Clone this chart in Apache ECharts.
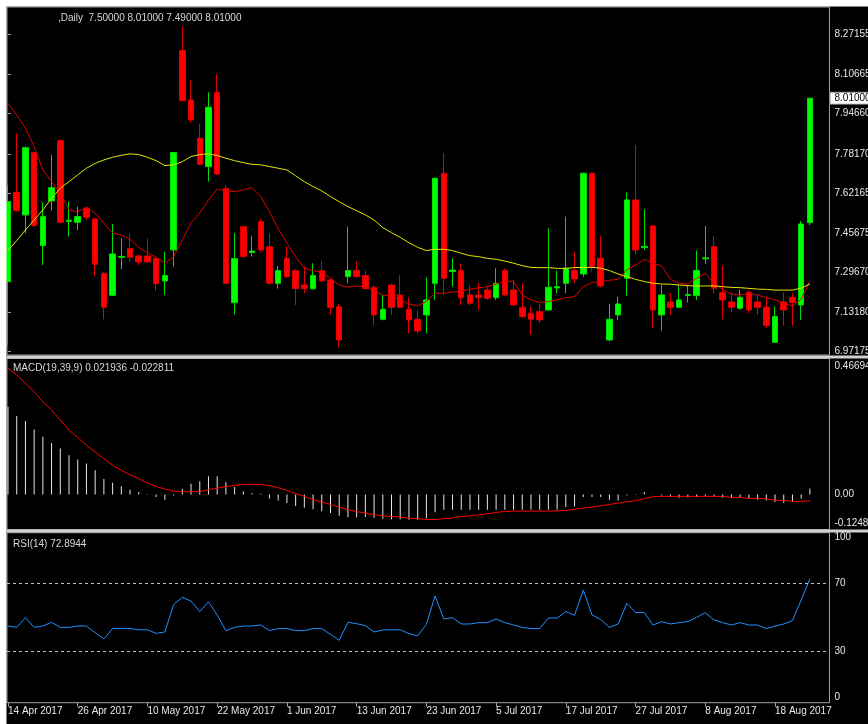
<!DOCTYPE html>
<html>
<head>
<meta charset="utf-8">
<script src="https://cdn.jsdelivr.net/npm/echarts@6/dist/echarts.min.js"></script>
<style>
html,body{margin:0;padding:0;background:#fff;}
#c{width:868px;height:724px;}
</style>
</head>
<body>
<div id="c"></div>
<script>
// ---------- data ----------
const dates = [
 '14 Apr 2017','17 Apr 2017','18 Apr 2017','19 Apr 2017','20 Apr 2017','21 Apr 2017','24 Apr 2017','25 Apr 2017',
 '26 Apr 2017','27 Apr 2017','28 Apr 2017','2 May 2017','3 May 2017','4 May 2017','5 May 2017','9 May 2017',
 '10 May 2017','11 May 2017','12 May 2017','15 May 2017','16 May 2017','17 May 2017','18 May 2017','19 May 2017',
 '22 May 2017','23 May 2017','24 May 2017','25 May 2017','26 May 2017','29 May 2017','30 May 2017','31 May 2017',
 '1 Jun 2017','2 Jun 2017','5 Jun 2017','6 Jun 2017','7 Jun 2017','8 Jun 2017','9 Jun 2017','12 Jun 2017',
 '13 Jun 2017','14 Jun 2017','15 Jun 2017','16 Jun 2017','19 Jun 2017','20 Jun 2017','21 Jun 2017','22 Jun 2017',
 '23 Jun 2017','26 Jun 2017','27 Jun 2017','28 Jun 2017','29 Jun 2017','30 Jun 2017','3 Jul 2017','4 Jul 2017',
 '5 Jul 2017','6 Jul 2017','7 Jul 2017','10 Jul 2017','11 Jul 2017','12 Jul 2017','13 Jul 2017','14 Jul 2017',
 '17 Jul 2017','18 Jul 2017','19 Jul 2017','20 Jul 2017','21 Jul 2017','24 Jul 2017','25 Jul 2017','26 Jul 2017',
 '27 Jul 2017','28 Jul 2017','31 Jul 2017','1 Aug 2017','2 Aug 2017','3 Aug 2017','4 Aug 2017','7 Aug 2017',
 '8 Aug 2017','9 Aug 2017','10 Aug 2017','11 Aug 2017','14 Aug 2017','15 Aug 2017','16 Aug 2017','17 Aug 2017',
 '18 Aug 2017','21 Aug 2017','22 Aug 2017','23 Aug 2017','24 Aug 2017'
];
const dateTickIdx = [0, 8, 16, 24, 32, 40, 48, 56, 64, 72, 80, 88];

const open = [
 7.2587,7.6245,7.5317,7.7870,7.4062,7.5891,7.8361,7.5050,7.5016,7.5590,
 7.5153,7.2928,7.2028,7.3580,7.3938,7.3638,7.3638,7.3529,7.2615,7.3884,
 8.2047,8.0026,7.8457,7.7297,8.0327,7.6409,7.1727,7.4839,7.3780,7.5044,
 7.4020,7.2519,7.3543,7.3038,7.2450,7.2300,7.3038,7.2656,7.1563,7.2792,
 7.3038,7.2833,7.2355,7.1045,7.2450,7.2041,7.1454,7.1045,7.1222,7.2519,
 7.7024,7.3000,7.3038,7.2041,7.2041,7.2246,7.1932,7.3038,7.2246,7.1536,
 7.1290,7.1358,7.1427,7.2330,7.2519,7.3038,7.2901,7.7024,7.3543,7.0198,
 7.1222,7.2724,7.5932,7.3980,7.4867,7.1222,7.1754,7.1536,7.2020,7.2014,
 7.3520,7.4020,7.2137,7.1754,7.1495,7.2137,7.1754,7.1536,7.0102,7.1754,
 7.1945,7.1631,7.5000
];
const close = [
 7.5863,7.5495,7.8074,7.4880,7.5249,7.6436,7.5016,7.5100,7.5249,7.5221,
 7.3297,7.1536,7.3720,7.3620,7.3584,7.3393,7.3393,7.2505,7.2833,7.7870,
 8.0000,7.9207,7.7392,7.9726,7.6996,7.2519,7.3529,7.3611,7.3840,7.3884,
 7.2519,7.3038,7.2792,7.2300,7.2300,7.2833,7.2615,7.1536,7.0198,7.3038,
 7.2792,7.2300,7.1222,7.1454,7.1536,7.1536,7.1018,7.0567,7.1836,7.6819,
 7.2724,7.3060,7.1932,7.1700,7.1932,7.1905,7.2519,7.2041,7.1631,7.1154,
 7.1045,7.1018,7.2355,7.2380,7.3133,7.2697,7.7024,7.3202,7.2410,7.1045,
 7.1672,7.5932,7.3884,7.4030,7.1427,7.2041,7.1536,7.1836,7.2060,7.3038,
 7.3560,7.2314,7.1836,7.1536,7.1945,7.1427,7.1536,7.0785,7.1154,7.1427,
 7.1727,7.4948,8.0100
];
const low = [
 6.9994,7.5450,7.4566,7.4820,7.3270,7.5495,7.4980,7.4430,7.4703,7.5120,
 7.2792,7.1045,7.2000,7.3093,7.3406,7.3270,7.3350,7.2219,7.2041,7.3202,
 7.9950,7.9098,7.7350,7.6683,7.6950,7.2480,7.1249,7.3560,7.3611,7.3790,
 7.2460,7.2300,7.2740,7.1631,7.2109,7.2260,7.2580,7.1222,6.9898,7.2519,
 7.2750,7.2260,7.0813,7.1000,7.1222,7.1500,7.0471,7.0471,7.0471,7.1836,
 7.2041,7.2382,7.1631,7.1630,7.1427,7.1830,7.1830,7.2000,7.1600,7.1120,
 7.0403,7.0882,7.1400,7.2109,7.2109,7.2519,7.2792,7.2997,7.2350,7.0150,
 7.1018,7.2014,7.3679,7.3884,7.0676,7.0580,7.1222,7.1500,7.1727,7.1836,
 7.3311,7.2109,7.1045,7.1331,7.1430,7.1290,7.1222,7.0676,7.0080,7.0785,
 7.0785,7.1018,7.4900
];
const high = [
 7.6546,7.8662,7.8120,7.7920,7.5836,7.7774,7.8400,7.5863,7.5658,7.5660,
 7.5200,7.2980,7.4948,7.4362,7.4566,7.3680,7.4362,7.3580,7.3815,7.7900,
 8.3029,8.0846,7.9044,8.0341,8.1078,7.6550,7.4566,7.4880,7.4457,7.5153,
 7.4566,7.3229,7.4020,7.3090,7.3229,7.3338,7.3434,7.2700,7.1672,7.4839,
 7.3434,7.3038,7.2450,7.2041,7.2500,7.2847,7.1945,7.1427,7.2751,7.6850,
 7.7842,7.3543,7.3311,7.2450,7.2546,7.2380,7.3133,7.3130,7.2656,7.2519,
 7.1563,7.1700,7.4771,7.3038,7.5249,7.3815,7.7050,7.7050,7.4457,7.1672,
 7.1973,7.6245,7.8184,7.5549,7.4900,7.2450,7.2137,7.2450,7.2450,7.3857,
 7.4867,7.4457,7.3243,7.2140,7.2246,7.2250,7.2041,7.1973,7.1563,7.2137,
 7.2109,7.5071,8.0100
];
const maFast = [
 7.989,7.941,7.887,7.812,7.716,7.668,7.620,7.552,7.545,7.563,
 7.539,7.498,7.457,7.450,7.432,7.399,7.377,7.358,7.334,7.361,
 7.429,7.500,7.539,7.593,7.637,7.630,7.627,7.634,7.644,7.607,
 7.545,7.475,7.416,7.361,7.313,7.304,7.296,7.272,7.245,7.236,
 7.241,7.236,7.222,7.204,7.200,7.184,7.167,7.159,7.177,7.211,
 7.211,7.216,7.220,7.227,7.234,7.238,7.248,7.262,7.259,7.204,
 7.184,7.173,7.177,7.184,7.193,7.197,7.238,7.255,7.260,7.264,
 7.268,7.307,7.327,7.350,7.334,7.323,7.268,7.252,7.249,7.272,
 7.293,7.252,7.227,7.208,7.204,7.211,7.204,7.193,7.184,7.170,
 7.159,7.186,7.262
];
const maSlow = [
 7.386,7.427,7.470,7.511,7.552,7.600,7.641,7.668,7.696,7.723,
 7.743,7.757,7.768,7.776,7.782,7.779,7.768,7.754,7.734,7.737,
 7.750,7.771,7.779,7.782,7.775,7.764,7.754,7.746,7.739,7.737,
 7.730,7.723,7.716,7.692,7.668,7.648,7.630,7.607,7.586,7.566,
 7.549,7.532,7.511,7.480,7.459,7.440,7.418,7.399,7.386,7.391,
 7.391,7.386,7.375,7.365,7.361,7.354,7.350,7.343,7.334,7.324,
 7.317,7.316,7.316,7.313,7.313,7.316,7.317,7.317,7.314,7.304,
 7.290,7.279,7.268,7.259,7.252,7.249,7.248,7.245,7.242,7.241,
 7.241,7.241,7.238,7.235,7.234,7.231,7.228,7.227,7.224,7.224,
 7.224,7.232,7.249
];
const macdMain = [
 0.3206,0.2863,0.2680,0.2374,0.2105,0.1884,0.1676,0.1432,0.1273,0.1126,
 0.0881,0.0563,0.0428,0.0294,0.0171,0.0086,0.0012,-0.0098,-0.0196,-0.0040,
 0.0208,0.0392,0.0477,0.0661,0.0661,0.0440,0.0270,0.0110,0.0040,0.0020,
 -0.0147,-0.0220,-0.0318,-0.0428,-0.0490,-0.0540,-0.0612,-0.0685,-0.0783,-0.0832,
 -0.0832,-0.0830,-0.0857,-0.0893,-0.0906,-0.0906,-0.0930,-0.0930,-0.0880,-0.0649,
 -0.0563,-0.0563,-0.0563,-0.0563,-0.0563,-0.0563,-0.0563,-0.0563,-0.0563,-0.0563,
 -0.0563,-0.0563,-0.0563,-0.0563,-0.0465,-0.0440,-0.0098,-0.0098,-0.0098,-0.0196,
 -0.0220,-0.0037,0.0010,0.0086,-0.0010,-0.0037,-0.0098,-0.0122,-0.0110,-0.0098,
 -0.0073,-0.0098,-0.0122,-0.0135,-0.0135,-0.0171,-0.0196,-0.0220,-0.0280,-0.0306,
 -0.0270,-0.0147,0.0219
];
const macdSignal = [
 0.461,0.437,0.406,0.376,0.339,0.308,0.272,0.235,0.208,0.180,
 0.155,0.131,0.106,0.088,0.072,0.0575,0.0416,0.029,0.0196,0.012,
 0.0098,0.0098,0.0098,0.0171,0.0233,0.029,0.033,0.0367,0.0367,0.0367,
 0.0318,0.0245,0.0147,0.0024,-0.0073,-0.0196,-0.028,-0.0367,-0.0465,-0.0563,
 -0.0624,-0.0685,-0.0746,-0.0783,-0.0808,-0.0832,-0.0869,-0.0893,-0.0918,-0.0918,
 -0.0893,-0.0857,-0.0808,-0.0783,-0.0746,-0.0710,-0.0660,-0.0624,-0.0612,-0.0612,
 -0.0612,-0.0612,-0.0612,-0.0600,-0.0587,-0.0550,-0.0502,-0.0465,-0.0416,-0.0367,
 -0.0318,-0.0269,-0.0232,-0.0159,-0.0086,-0.0073,-0.0073,-0.0073,-0.0073,-0.0073,
 -0.0073,-0.0073,-0.0073,-0.0110,-0.0110,-0.0147,-0.0147,-0.0159,-0.0220,-0.0220,
 -0.0257,-0.0257,-0.0228
];
const rsi = [
 45.1,44.3,50.0,44.3,45.1,47.3,44.3,44.3,45.1,45.1,
 41.2,37.5,43.6,43.6,43.6,42.9,42.9,40.8,41.6,57.7,
 62.0,59.8,53.6,59.4,51.6,42.4,44.3,45.1,45.1,45.7,
 42.4,43.6,43.6,42.4,42.4,43.6,43.6,40.2,36.7,47.3,
 46.5,45.3,41.6,42.8,42.9,42.9,40.6,39.4,46.1,62.8,
 49.2,50.0,46.3,46.3,47.1,47.1,49.2,47.1,45.7,44.3,
 43.6,43.6,49.8,49.8,53.6,51.4,66.3,51.6,49.0,44.3,
 46.3,58.5,53.0,53.0,45.7,47.7,46.3,47.1,47.7,50.2,
 53.0,48.7,47.1,45.7,47.1,45.7,45.7,43.6,45.1,46.3,
 48.3,60.4,72.9
];
const priceTicks = [8.27155, 8.10665, 7.94660, 7.78170, 7.62165, 7.45675, 7.29670, 7.13180, 6.97175];
const macdTicks = [-0.1248, 0, 0.46694];
const macdTickLabels = ['-0.1248', '0.00', '0.46694'];
const rsiTicks = [0, 30, 70, 100];
const rsiLevels = [30, 70];
const headerText = ',Daily  7.50000 8.01000 7.49000 8.01000';
const macdText = 'MACD(19,39,9) 0.021936 -0.022811';
const rsiText = 'RSI(14) 72.8944';

// ---------- chart ----------
const FONT = '"Liberation Sans", Arial, sans-serif';
const idx = dates.map((d, i) => i);
const candleData = idx.map(i => [i, open[i], close[i], low[i], high[i]]);
const pair = arr => arr.map((v, i) => [i, v]);
const lastClose = close[close.length - 1];

const xBase = {
  type: 'value', min: -0.115, max: 94.25,
  splitLine: { show: false }, axisLine: { show: false },
  axisTick: { show: false }, axisLabel: { show: false }
};
const gridBase = {
  left: 7, right: 38.5, show: true, borderColor: '#a0a0a0', borderWidth: 1,
  backgroundColor: '#000', containLabel: false, outerBoundsMode: 'none'
};
const labelBase = { color: '#e8e8e8', fontSize: 10, fontFamily: FONT, margin: 5 };

const chart = echarts.init(document.getElementById('c'), null, { renderer: 'canvas' });
chart.setOption({
  backgroundColor: '#000',
  animation: false,
  grid: [
    Object.assign({ top: 7, height: 348 }, gridBase),
    Object.assign({ top: 358.5, height: 171 }, gridBase),
    Object.assign({ top: 532.7, height: 170 }, gridBase)
  ],
  xAxis: [
    Object.assign({ gridIndex: 0 }, xBase),
    Object.assign({ gridIndex: 1 }, xBase),
    Object.assign({}, xBase, {
      gridIndex: 2,
      axisTick: { show: true, customValues: dateTickIdx, length: 4, lineStyle: { color: '#a0a0a0' } },
      axisLabel: Object.assign({}, labelBase, {
        show: true, customValues: dateTickIdx, align: 'left', margin: 4,
        formatter: v => dates[Math.round(v)]
      })
    })
  ],
  yAxis: [
    {
      gridIndex: 0, type: 'value', position: 'right', min: 6.9582, max: 8.3833,
      splitLine: { show: false }, axisLine: { show: false },
      axisTick: { show: true, customValues: priceTicks, length: 3, lineStyle: { color: '#a0a0a0' } },
      axisLabel: Object.assign({}, labelBase, { customValues: priceTicks, formatter: v => v.toFixed(5) })
    },
    {
      gridIndex: 1, type: 'value', position: 'right', min: -0.1284, max: 0.4970,
      splitLine: { show: false }, axisLine: { show: false }, axisTick: { show: false },
      axisLabel: Object.assign({}, labelBase, {
        customValues: macdTicks, verticalAlignMinLabel: 'bottom',
        formatter: v => {
          let k = 0, best = Infinity;
          macdTicks.forEach((t, j) => { if (Math.abs(t - v) < best) { best = Math.abs(t - v); k = j; } });
          return macdTickLabels[k];
        }
      })
    },
    {
      gridIndex: 2, type: 'value', position: 'right', min: 0, max: 100,
      splitLine: { show: false }, axisLine: { show: false }, axisTick: { show: false },
      axisLabel: Object.assign({}, labelBase, {
        customValues: rsiTicks, verticalAlignMinLabel: 'bottom', verticalAlignMaxLabel: 'top',
        formatter: v => String(Math.round(v))
      })
    }
  ],
  series: [
    {
      type: 'candlestick', xAxisIndex: 0, yAxisIndex: 0,
      dimensions: ['idx', 'open', 'close', 'low', 'high'],
      encode: { x: 'idx', y: ['open', 'close', 'low', 'high'] },
      data: candleData, barWidth: 6, clip: false,
      itemStyle: { color: '#00ff00', color0: '#ff0000', borderColor: '#00e000', borderColor0: '#e00000', borderWidth: 1 },
      markLine: {
        silent: true, symbol: 'none', animation: false,
        lineStyle: { color: 'rgba(0,0,0,0)', width: 1, type: 'solid' },
        emphasis: { disabled: true },
        label: {
          show: true, position: 'end', distance: 1, formatter: lastClose.toFixed(5),
          color: '#000000', opacity: 1, backgroundColor: '#ffffff', borderColor: '#808080', borderWidth: 1,
          padding: [1, 4, 0, 4], fontSize: 10, fontFamily: FONT, lineHeight: 10
        },
        data: [{ yAxis: lastClose }]
      }
    },
    {
      type: 'line', xAxisIndex: 0, yAxisIndex: 0, data: pair(maFast), symbol: 'none',
      lineStyle: { color: '#e00000', width: 1 }, z: 3
    },
    {
      type: 'line', xAxisIndex: 0, yAxisIndex: 0, data: pair(maSlow), symbol: 'none',
      lineStyle: { color: '#e6e600', width: 1 }, z: 3
    },
    {
      type: 'bar', xAxisIndex: 1, yAxisIndex: 1, data: pair(macdMain), barWidth: 1,
      itemStyle: { color: '#e6e6e6' }
    },
    {
      type: 'line', xAxisIndex: 1, yAxisIndex: 1, data: pair(macdSignal), symbol: 'none',
      lineStyle: { color: '#ff0000', width: 1 }, z: 3
    },
    {
      type: 'line', xAxisIndex: 2, yAxisIndex: 2, data: pair(rsi), symbol: 'none',
      lineStyle: { color: '#1e90ff', width: 1 },
      markLine: {
        silent: true, symbol: 'none', animation: false, label: { show: false },
        lineStyle: { color: '#c0c0c0', type: [3, 3], width: 1 },
        data: rsiLevels.map(v => ({ yAxis: v }))
      }
    }
  ],
  graphic: [
    { type: 'rect', z: 100, shape: { x: 0, y: 0, width: 868, height: 6.5 }, style: { fill: '#ffffff' } },
    { type: 'rect', z: 100, shape: { x: 0, y: 0, width: 6.5, height: 724 }, style: { fill: '#ffffff' } },
    { type: 'rect', z: 100, shape: { x: 6.5, y: 355.5, width: 862, height: 3 }, style: { fill: '#d0d0d0' } },
    { type: 'rect', z: 100, shape: { x: 6.5, y: 529.5, width: 862, height: 3 }, style: { fill: '#d0d0d0' } },
    { type: 'text', z: 100, x: 58, y: 18, style: { text: headerText, fill: '#d8d8d8', font: '10px ' + FONT, verticalAlign: 'middle' } },
    { type: 'text', z: 100, x: 13, y: 368.5, style: { text: macdText, fill: '#d8d8d8', font: '10px ' + FONT, verticalAlign: 'middle' } },
    { type: 'text', z: 100, x: 13, y: 544, style: { text: rsiText, fill: '#d8d8d8', font: '10px ' + FONT, verticalAlign: 'middle' } }
  ]
});
</script>
</body>
</html>
